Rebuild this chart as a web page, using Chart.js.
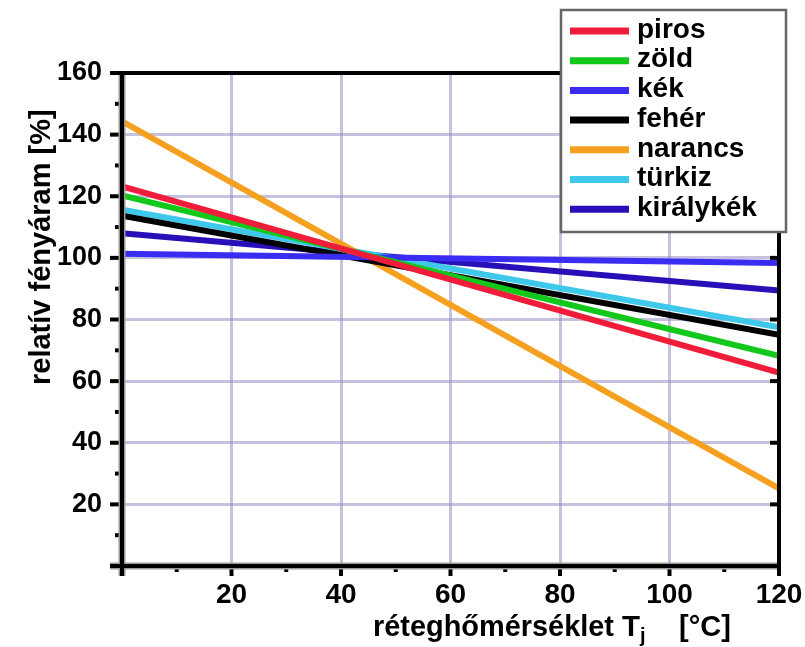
<!DOCTYPE html>
<html>
<head>
<meta charset="utf-8">
<script src="https://cdn.jsdelivr.net/npm/chart.js@4.4.1/dist/chart.umd.min.js"></script>
<style>
  body { margin: 0; background: #fff; }
  canvas { display: block; }
</style>
</head>
<body>
<canvas id="chart" width="805" height="647"></canvas>
<script>
// data (relative luminous flux vs junction temperature)
const temps = [0, 120];
const piros = [123.2, 62.8];
const zold = [120.3, 68.2];
const kek = [101.3, 98.3];
const feher = [113.7, 75.0];
const narancs = [144.3, 25.2];
const turkiz = [115.6, 77.5];
const kiralykek = [108.0, 89.4];

const seriesNames = ['piros', 'zöld', 'kék', 'fehér', 'narancs', 'türkiz', 'királykék'];
const seriesValues = [piros, zold, kek, feher, narancs, turkiz, kiralykek];
const seriesColors = ['#ef1c3a', '#12c81a', '#3b2cf2', '#000000', '#f5a01e', '#3ec8ea', '#2810b8'];

const yTicks = [20, 40, 60, 80, 100, 120, 140, 160];
const xTicks = [20, 40, 60, 80, 100, 120];

const FONT = '"Liberation Sans", Arial, sans-serif';
const gridColor = 'rgba(150, 142, 195, 0.55)';

document.addEventListener('DOMContentLoaded', () => {
    const datasets = seriesNames.map((name, i) => ({
        label: name,
        data: temps.map((t, j) => ({ x: t, y: seriesValues[i][j] })),
        borderColor: seriesColors[i],
        backgroundColor: seriesColors[i],
        borderWidth: 6,
        pointRadius: 0,
        tension: 0
    }));

    const line = (ctx, x1, y1, x2, y2) => {
        ctx.beginPath();
        ctx.moveTo(x1, y1);
        ctx.lineTo(x2, y2);
        ctx.stroke();
    };

    // axes frame, minor ticks, legend box and axis titles
    const framePlugin = {
        id: 'frame',
        afterDraw(chart) {
            const { ctx, chartArea: a, scales: { x, y } } = chart;
            ctx.save();
            ctx.lineCap = 'butt';

            // ticks on the left (outside) and right (inside)
            ctx.strokeStyle = '#000';
            ctx.lineWidth = 4;
            for (let v = 10; v < 160; v += 10) {
                const py = y.getPixelForValue(v);
                const major = yTicks.includes(v);
                line(ctx, a.left - (major ? 12 : 7), py, a.left, py);
                if (major) line(ctx, a.right - 9, py, a.right, py);
            }
            // ticks below the x axis
            for (let v = 10; v < 120; v += 10) {
                const px = x.getPixelForValue(v);
                const major = xTicks.includes(v);
                line(ctx, px, a.bottom, px, a.bottom + (major ? 10 : 6));
            }

            // axis lines with a grey shadow
            ctx.strokeStyle = '#9a9a9a';
            ctx.lineWidth = 7;
            line(ctx, a.left - 12, a.bottom, a.right, a.bottom);
            line(ctx, a.left, a.top, a.left, a.bottom + 10);
            ctx.strokeStyle = '#000';
            ctx.lineWidth = 4;
            line(ctx, a.left - 12, a.bottom, a.right + 2, a.bottom);
            line(ctx, a.left, a.top - 2, a.left, a.bottom + 10);
            line(ctx, a.left - 12, a.top, a.right + 2, a.top);
            line(ctx, a.right, a.top, a.right, a.bottom + 10);

            // legend
            const lx = 561, ly = 10, lw = 225, lh = 222;
            ctx.fillStyle = '#fff';
            ctx.fillRect(lx, ly, lw, lh);
            ctx.strokeStyle = '#666';
            ctx.lineWidth = 2.5;
            ctx.strokeRect(lx, ly, lw, lh);
            ctx.font = 'bold 28px ' + FONT;
            ctx.textBaseline = 'middle';
            ctx.textAlign = 'left';
            chart.data.datasets.forEach((ds, i) => {
                const cy = 31 + i * 29.7;
                ctx.strokeStyle = ds.borderColor;
                ctx.lineWidth = 7;
                line(ctx, lx + 9, cy, lx + 68, cy);
                ctx.fillStyle = '#000';
                ctx.fillText(ds.label, lx + 76, cy - 1);
            });

            // y axis title
            ctx.save();
            ctx.translate(50, 385);
            ctx.rotate(-Math.PI / 2);
            ctx.font = 'bold 29px ' + FONT;
            ctx.textBaseline = 'alphabetic';
            ctx.fillStyle = '#000';
            ctx.fillText('relatív fényáram [%]', 0, 0);
            ctx.restore();

            // x axis title with subscript j
            ctx.fillStyle = '#000';
            ctx.textBaseline = 'alphabetic';
            ctx.font = 'bold 29.5px ' + FONT;
            ctx.fillText('réteghőmérséklet', 373, 636, 241);
            ctx.fillText('T', 622, 636);
            ctx.font = 'bold 20px ' + FONT;
            ctx.fillText('j', 640, 642);
            ctx.font = 'bold 29px ' + FONT;
            ctx.fillText('[°C]', 679, 636);

            ctx.restore();
        }
    };

    new Chart(document.getElementById('chart').getContext('2d'), {
        type: 'line',
        data: { datasets },
        options: {
            responsive: false,
            animation: false,
            devicePixelRatio: 1,
            layout: { padding: { left: 0, right: 26, top: 73, bottom: 0 } },
            plugins: {
                legend: { display: false },
                tooltip: { enabled: false }
            },
            scales: {
                x: {
                    type: 'linear',
                    min: 0,
                    max: 120,
                    afterFit: (s) => { s.height = 81; s.paddingLeft = 0; s.paddingRight = 0; },
                    border: { display: false },
                    grid: {
                        drawTicks: false,
                        lineWidth: 3,
                        color: (c) => (xTicks.includes(c.tick.value) && c.tick.value !== 120 ? gridColor : 'rgba(0,0,0,0)')
                    },
                    ticks: {
                        stepSize: 10,
                        autoSkip: false,
                        maxRotation: 0,
                        padding: 12,
                        color: '#000',
                        font: { family: FONT, size: 28, weight: 'bold' },
                        callback: (v) => (xTicks.includes(v) ? v : '')
                    }
                },
                y: {
                    min: 0,
                    max: 160,
                    afterFit: (s) => { s.width = 122; s.paddingTop = 0; s.paddingBottom = 0; },
                    border: { display: false },
                    grid: {
                        drawTicks: false,
                        lineWidth: 3,
                        color: (c) => (yTicks.includes(c.tick.value) && c.tick.value !== 160 ? gridColor : 'rgba(0,0,0,0)')
                    },
                    ticks: {
                        stepSize: 10,
                        padding: 20,
                        color: '#000',
                        font: { family: FONT, size: 27, weight: 'bold' },
                        callback: (v) => (yTicks.includes(v) ? v : '')
                    }
                }
            }
        },
        plugins: [framePlugin]
    });
});
</script>
</body>
</html>
